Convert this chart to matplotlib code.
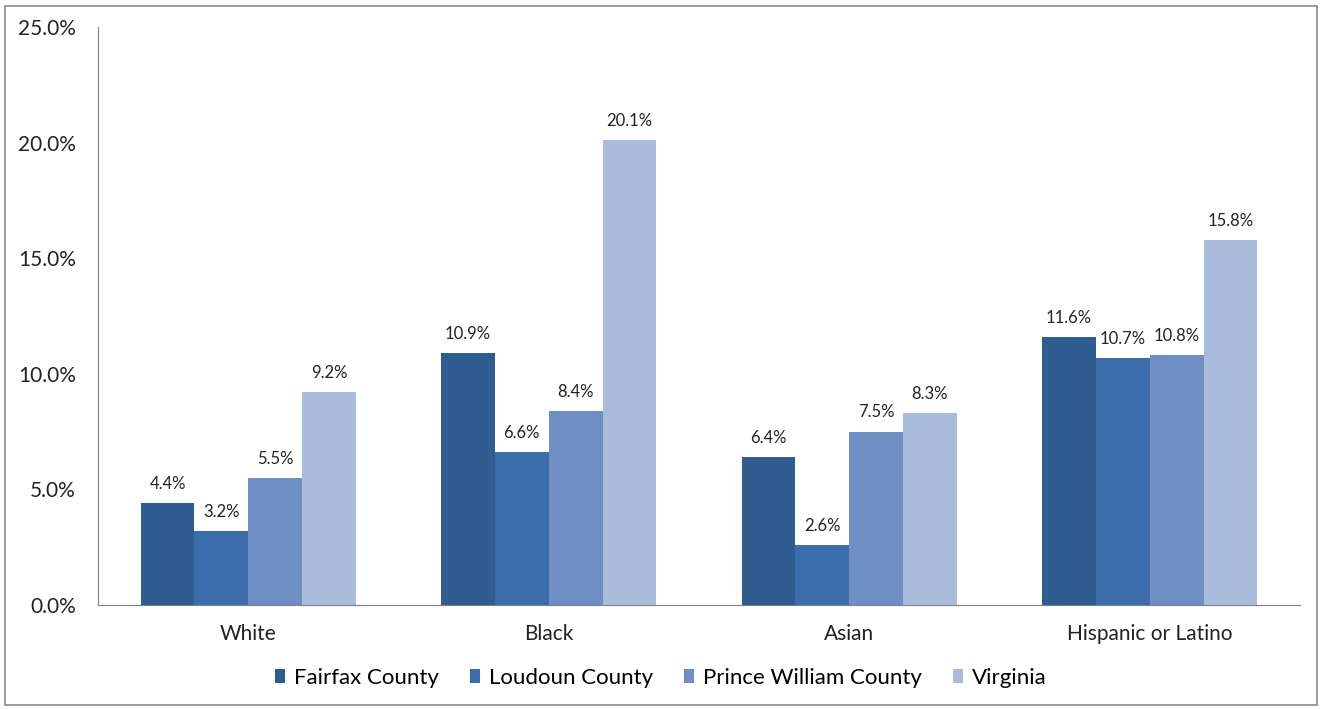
import numpy as np
import matplotlib.pyplot as plt
from matplotlib.patches import Rectangle

plt.rcParams['font.family'] = ['Lato', 'DejaVu Sans']

# data
categories = ["White", "Black", "Asian", "Hispanic or Latino"]
series_names = ["Fairfax County", "Loudoun County", "Prince William County", "Virginia"]
fairfax = [4.4, 10.9, 6.4, 11.6]
loudoun = [3.2, 6.6, 2.6, 10.7]
prince_william = [5.5, 8.4, 7.5, 10.8]
virginia = [9.2, 20.1, 8.3, 15.8]
y_ticks = [0, 5, 10, 15, 20, 25]

colors = ["#2f5d8f", "#3b6cab", "#6f8fc4", "#a9bcdc"]

fig = plt.figure(figsize=(13.22, 7.09), dpi=100)
ax = fig.add_axes([0.0741, 0.1467, 0.9093, 0.8152])

x = np.arange(len(categories))
width = 0.179
all_series = [fairfax, loudoun, prince_william, virginia]
for i, (vals, name, col) in enumerate(zip(all_series, series_names, colors)):
    pos = x + (i - 1.5) * width
    ax.bar(pos, vals, width=width, color=col, label=name, edgecolor="none")
    for px, v in zip(pos, vals):
        ax.annotate(f"{v:.1f}%", (px, v), xytext=(0, 8), textcoords="offset points",
                    ha="center", va="bottom", fontsize=12, color="#222222",
                    bbox=dict(boxstyle="square,pad=0.2", fc="white", ec="none"))

ax.set_xlim(-0.5, 3.5)
ax.set_ylim(0, 25)
ax.set_yticks(y_ticks)
ax.set_yticklabels([f"{t:.1f}%" for t in y_ticks], fontsize=15, color="#222222")
ax.set_xticks(x)
ax.set_xticklabels(categories, fontsize=15, color="#222222")
ax.tick_params(axis="x", length=0, pad=14)
ax.tick_params(axis="y", length=0, pad=16)
for s in ["top", "right"]:
    ax.spines[s].set_visible(False)
ax.spines["left"].set_color("#7f7f7f")
ax.spines["bottom"].set_color("#7f7f7f")

leg = fig.legend(loc="center", bbox_to_anchor=(0.5, 0.044), ncol=4, frameon=False,
                 fontsize=16, handlelength=0.45, handleheight=0.6, handletextpad=0.4,
                 columnspacing=1.4)

# outer frame
fig.patches.append(Rectangle((0.004, 0.006), 0.992, 0.986, transform=fig.transFigure,
                             fill=False, ec="#8a8a8a", lw=1.2))

fig.savefig("out.png", dpi=100)
